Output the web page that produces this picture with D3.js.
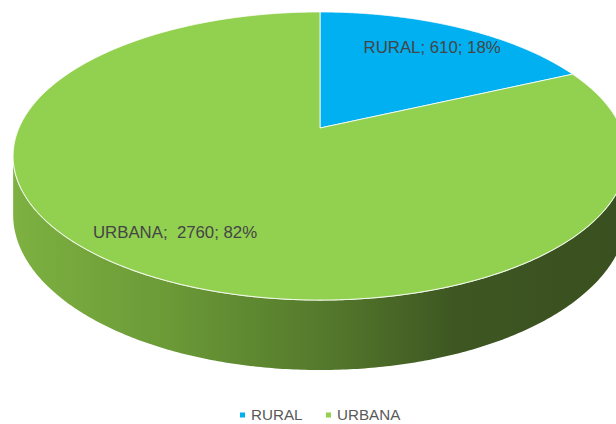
<!DOCTYPE html>
<html>
<head>
<meta charset="utf-8">
<script src="https://cdn.jsdelivr.net/npm/d3@7"></script>
<style>
  body { margin: 0; background: #fff; }
  text { font-family: "Liberation Sans", Arial, sans-serif; white-space: pre; }
</style>
</head>
<body>
<script>
// data
var categories = ["RURAL", "URBANA"];
var values = [610, 2760];
var percents = ["18%", "82%"];
var colors = ["#00B0F0", "#92D050"];

// canvas
var w = 616;
var h = 424;

// 3d pie magic numbers (perspective tilt of a flat disc)
var cx = 320;        // screen x of disc centre
var cy = 128;        // screen y of disc centre
var kx = 301;        // horizontal radius scale
var ay = 113.7;      // vertical radius scale
var persp = -0.1944; // perspective factor
var depth = 56.4;    // thickness of the disc
var labelRadius = 0.78;

var svg = d3.select("body")
            .append("svg")
            .attr("width", w)
            .attr("height", h);

var color = d3.scaleOrdinal()
              .domain(categories)
              .range(colors);

// project angle (clockwise from 12 o'clock) + radius onto the screen
function proj(theta, r, dz) {
    var u = r * Math.sin(theta);
    var v = -r * Math.cos(theta);
    var ww = 1 + persp * v;
    return [cx + kx * u / ww, (ay * v + cy) / ww + (dz || 0) / ww];
}

function arcPoints(a0, a1, r, dz) {
    var n = Math.max(2, Math.ceil(Math.abs(a1 - a0) / 0.01));
    return d3.range(n + 1).map(function(i) {
        return proj(a0 + (a1 - a0) * i / n, r, dz);
    });
}

var line = d3.line();

var pie = d3.pie().sort(null).value(function(d) { return d; });
var arcs = pie(values);

// side of the disc is only visible on the near half
var vis0 = Math.acos(persp);               // right silhouette
var vis1 = 2 * Math.PI - Math.acos(persp); // left silhouette

var defs = svg.append("defs");
var grad = defs.append("linearGradient")
               .attr("id", "sideGrad")
               .attr("gradientUnits", "userSpaceOnUse")
               .attr("x1", cx - kx * 1.02).attr("x2", cx + kx * 1.02)
               .attr("y1", 0).attr("y2", 0);
grad.append("stop").attr("offset", "0%").attr("stop-color", "#7db141");
grad.append("stop").attr("offset", "25%").attr("stop-color", "#6b9a37");
grad.append("stop").attr("offset", "50%").attr("stop-color", "#557a2c");
grad.append("stop").attr("offset", "72%").attr("stop-color", "#3e5722");
grad.append("stop").attr("offset", "100%").attr("stop-color", "#394f1f");

// sides
arcs.forEach(function(d) {
    var s = Math.max(d.startAngle, vis0);
    var e = Math.min(d.endAngle, vis1);
    if (e <= s) return;
    var top = arcPoints(s, e, 1, 0);
    var bottom = arcPoints(e, s, 1, depth);
    svg.append("path")
       .attr("d", line(top.concat(bottom)) + "Z")
       .attr("fill", "url(#sideGrad)");
    // light rim between top and side
    svg.append("path")
       .attr("d", line(top))
       .attr("fill", "none")
       .attr("stroke", "#e8f3dc")
       .attr("stroke-width", 1.2);
});

// top faces
svg.selectAll("path.slice")
   .data(arcs)
   .enter()
   .append("path")
   .attr("class", "slice")
   .attr("d", function(d) {
       var pts = [proj(0, 0)].concat(arcPoints(d.startAngle, d.endAngle, 1, 0));
       return line(pts) + "Z";
   })
   .attr("fill", function(d, i) { return color(categories[i]); })
   .attr("stroke", "#ffffff")
   .attr("stroke-width", 0.8)
   .attr("stroke-linejoin", "round");

// data labels
svg.selectAll("text.label")
   .data(arcs)
   .enter()
   .append("text")
   .attr("class", "label")
   .attr("x", function(d) { return proj((d.startAngle + d.endAngle) / 2, labelRadius)[0]; })
   .attr("y", function(d) { return proj((d.startAngle + d.endAngle) / 2, labelRadius)[1]; })
   .attr("dy", "0.35em")
   .attr("text-anchor", "middle")
   .attr("font-size", "16.8px")
   .attr("fill", "#454545")
   .text(function(d, i) {
       return categories[i] + ";" + (i == 1 ? "  " : " ") + values[i] + "; " + percents[i];
   });

// legend
var legendX = [240, 326];
var legend = svg.selectAll("g.legend")
                .data(categories)
                .enter()
                .append("g")
                .attr("class", "legend")
                .attr("transform", function(d, i) { return "translate(" + legendX[i] + ",415)"; });
legend.append("rect")
      .attr("x", 0).attr("y", -2.5)
      .attr("width", 5).attr("height", 5)
      .attr("fill", function(d) { return color(d); });
legend.append("text")
      .attr("x", 11)
      .attr("dy", "0.35em")
      .attr("font-size", "15.2px")
      .attr("fill", "#595959")
      .text(function(d) { return d; });
</script>
</body>
</html>
